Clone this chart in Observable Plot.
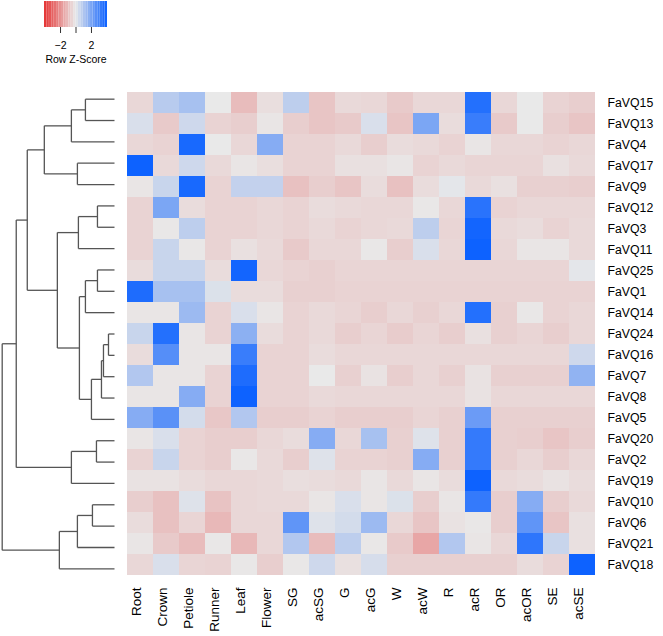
<!DOCTYPE html>
<html><head><meta charset="utf-8">
<script src="https://cdn.jsdelivr.net/npm/d3@7"></script>
<script src="https://cdn.jsdelivr.net/npm/@observablehq/plot@0.6"></script>
<style>
body{margin:0;background:#fff;font-family:"Liberation Sans",Arial,sans-serif;}
#wrap{position:relative;width:663px;height:636px;overflow:hidden;background:#fff}
#wrap svg{position:absolute;left:0;top:0;background:transparent}
</style></head><body><div id="wrap"></div>
<script>
// ---- data ----
const tissues = ["Root","Crown","Petiole","Runner","Leaf","Flower","SG","acSG","G","acG","W","acW","R","acR","OR","acOR","SE","acSE"];
const genes = ["FaVQ15","FaVQ13","FaVQ4","FaVQ17","FaVQ9","FaVQ12","FaVQ3","FaVQ11","FaVQ25","FaVQ1","FaVQ14","FaVQ24","FaVQ16","FaVQ7","FaVQ8","FaVQ5","FaVQ20","FaVQ2","FaVQ19","FaVQ10","FaVQ6","FaVQ21","FaVQ18"];

const zFaVQ15 = [-0.4, 0.9, 1.2, 0, -1.0, -0.25, 0.8, -0.8, -0.35, -0.4, -0.7, -0.4, -0.4, 3.6, -0.4, 0, -0.5, -0.6];
const zFaVQ13 = [0.3, -0.7, 0.5, -0.5, -0.6, -0.1, -0.6, -0.8, -0.7, 0.3, -0.8, 2.0, -0.3, 3.2, -0.7, 0, -0.6, -0.8];
const zFaVQ4  = [-0.4, -0.5, 3.8, 0, -0.4, 1.8, -0.5, -0.5, -0.35, -0.6, -0.3, -0.35, -0.5, -0.1, -0.4, -0.4, -0.5, -0.4];
const zFaVQ17 = [4.0, -0.35, 0.5, -0.35, -0.1, -0.25, -0.5, -0.5, -0.2, -0.2, -0.1, -0.5, -0.35, -0.45, -0.45, -0.45, -0.2, -0.35];
const zFaVQ9  = [-0.1, 0.6, 3.8, -0.5, 0.7, 0.7, -0.9, -0.6, -0.8, -0.3, -0.9, -0.3, 0.1, -0.35, -0.2, -0.55, -0.55, -0.6];
const zFaVQ12 = [-0.5, 2.0, -0.3, -0.5, -0.5, -0.4, -0.5, -0.3, -0.35, -0.4, -0.4, -0.05, -0.4, 3.5, -0.5, -0.4, -0.4, -0.4];
const zFaVQ3  = [-0.5, -0.05, 0.8, -0.5, -0.5, -0.4, -0.5, -0.35, -0.5, -0.4, -0.35, 0.8, -0.45, 3.9, -0.35, -0.3, -0.5, -0.35];
const zFaVQ11 = [-0.5, 0.6, -0.05, -0.5, -0.2, -0.35, -0.7, -0.4, -0.4, -0.05, -0.6, 0.3, -0.4, 4.0, -0.4, -0.1, -0.1, -0.35];
const zFaVQ25 = [-0.3, 0.6, 0.6, -0.3, 3.9, -0.4, -0.5, -0.55, -0.45, -0.45, -0.45, -0.45, -0.45, -0.45, -0.45, -0.45, -0.45, 0.1];
const zFaVQ1  = [3.7, 1.2, 1.2, 0.25, -0.3, -0.3, -0.55, -0.55, -0.5, -0.5, -0.5, -0.5, -0.5, -0.5, -0.5, -0.5, -0.5, -0.5];
const zFaVQ14 = [-0.1, -0.1, 1.4, -0.5, 0.3, -0.1, -0.5, -0.35, -0.45, -0.6, -0.4, -0.55, -0.4, 3.6, -0.55, -0.05, -0.5, -0.4];
const zFaVQ24 = [0.6, 3.6, -0.1, -0.5, 1.7, -0.3, -0.5, -0.35, -0.6, -0.45, -0.65, -0.45, -0.6, -0.2, -0.55, -0.45, -0.6, -0.4];
const zFaVQ16 = [-0.3, 2.7, -0.1, -0.1, 3.2, -0.5, -0.5, -0.3, -0.4, -0.4, -0.4, -0.4, -0.4, -0.4, -0.4, -0.4, -0.4, 0.5];
const zFaVQ7  = [1.0, -0.1, -0.1, -0.5, 3.7, -0.5, -0.5, 0, -0.55, -0.15, -0.6, -0.4, -0.55, -0.15, -0.55, -0.55, -0.55, 1.6];
const zFaVQ8  = [-0.1, -0.1, 1.8, -0.5, 4.0, -0.5, -0.5, -0.35, -0.4, -0.4, -0.4, -0.4, -0.4, -0.15, -0.4, -0.4, -0.4, -0.4];
const zFaVQ5  = [1.8, 2.6, 0.4, -0.75, 1.0, -0.6, -0.6, -0.5, -0.6, -0.6, -0.6, -0.45, -0.55, 2.3, -0.55, -0.55, -0.55, -0.55];
const zFaVQ20 = [-0.1, 0.3, -0.5, -0.6, -0.6, -0.4, -0.3, 1.8, -0.4, 1.2, -0.55, 0.2, -0.55, 3.3, -0.55, -0.6, -0.8, -0.6];
const zFaVQ2  = [-0.5, 0.6, -0.5, -0.6, -0.05, -0.35, -0.6, 0.2, -0.5, -0.5, -0.55, 1.8, -0.55, 3.3, -0.55, -0.4, -0.6, -0.4];
const zFaVQ19 = [-0.15, -0.15, -0.3, -0.4, -0.4, -0.35, -0.25, -0.3, -0.35, -0.1, -0.35, -0.1, -0.3, 4.1, -0.35, -0.3, -0.15, -0.3];
const zFaVQ10 = [-0.6, -0.9, 0.2, -0.85, -0.4, -0.35, -0.35, -0.1, 0.3, -0.1, 0.25, -0.6, -0.1, 3.3, -0.6, 1.8, -0.6, -0.35];
const zFaVQ6  = [-0.3, -0.9, -0.45, -1.1, -0.4, -0.4, 2.5, 0.2, 0.4, 1.4, -0.4, -0.8, -0.15, -0.05, -0.6, 2.5, -0.8, -0.2];
const zFaVQ21 = [-0.1, -0.7, -1.0, -0.05, -1.1, -0.4, 1.0, -1.0, 0.8, -0.05, -0.7, -1.5, 1.0, -0.1, -0.4, 3.4, 0.6, -0.2];
const zFaVQ18 = [-0.4, 0.3, -0.45, -0.5, -0.05, -0.6, -0.05, 0.5, -0.2, 0.35, -0.55, -0.55, -0.55, -0.55, -0.55, -0.3, -0.5, 4.0];

const rowValues = [zFaVQ15,zFaVQ13,zFaVQ4,zFaVQ17,zFaVQ9,zFaVQ12,zFaVQ3,zFaVQ11,zFaVQ25,zFaVQ1,zFaVQ14,zFaVQ24,zFaVQ16,zFaVQ7,zFaVQ8,zFaVQ5,zFaVQ20,zFaVQ2,zFaVQ19,zFaVQ10,zFaVQ6,zFaVQ21,zFaVQ18];

// dendrogram merges (hclust style: negative = leaf in display order, positive = earlier merge)
const mergeA = [-1, 1, -4, 2, -6, 5, -9, 7, -12, 9, 10, 11, 8, 6, 4, -17, 16, 15, -20, 19, 20, 18];
const mergeB = [-2, -3, -5, 3, -7, -8, -10, -11, -13, -14, -15, -16, 12, 13, 14, -18, -19, 17, -21, -22, -23, 21];
const mergeHeight = [29, 43, 37, 70, 17, 36, 17, 29, 6, 11, 13, 23, 35, 57, 87, 18, 43, 98, 22, 37, 55, 112];

const keyTicks = [-2, 0, 2];

// ---- build ----
const cells = [];
genes.forEach((g, i) => tissues.forEach((t, j) => cells.push({gene: g, tissue: t, z: rowValues[i][j]})));

const colorOpts = {type: "linear", domain: [-4, 0, 4], range: ["#e53535", "#e9e9e9", "#0d62ff"], interpolate: "rgb", clamp: true};
const font = '"Liberation Sans", Arial, sans-serif';
const wrap = document.getElementById("wrap");

const heat = Plot.plot({
  width: 663, height: 636,
  marginLeft: 119, marginRight: 60, marginTop: 88, marginBottom: 57,
  style: {fontFamily: font, background: "transparent", color: "#000"},
  x: {domain: tissues, padding: 0, label: null},
  y: {domain: genes, padding: 0, label: null},
  color: colorOpts,
  marks: [
    Plot.cell(cells, {x: "tissue", y: "gene", fill: "z"}),
    Plot.axisX({anchor: "bottom", tickRotate: -90, tickSize: 0, tickPadding: 8, fontSize: 13.5, label: null, dx: -4}),
    Plot.axisY({anchor: "right", tickSize: 0, tickPadding: 4, fontSize: 12.3, label: null})
  ]
});
wrap.appendChild(heat);

// dendrogram
const nodeY = [], nodeH = [];
const ref = r => r < 0 ? {y: -r - 1, h: 0} : {y: nodeY[r - 1], h: nodeH[r - 1]};
const segs = [];
mergeA.forEach((a, k) => {
  const pa = ref(a), pb = ref(mergeB[k]), h = mergeHeight[k];
  nodeY[k] = (pa.y + pb.y) / 2; nodeH[k] = h;
  segs.push({x1: h, y1: pa.y, x2: h, y2: pb.y});
  segs.push({x1: pa.h, y1: pa.y, x2: h, y2: pa.y});
  segs.push({x1: pb.h, y1: pb.y, x2: h, y2: pb.y});
});
const dendro = Plot.plot({
  width: 119, height: 636, margin: 0,
  style: {background: "transparent"},
  x: {domain: [0, 112], range: [114, 1.7], axis: null},
  y: {domain: [-0.5, genes.length - 0.5], range: [88, 579], axis: null},
  marks: [Plot.link(segs, {x1: "x1", y1: "y1", x2: "x2", y2: "y2", stroke: "#555", strokeWidth: 1.3})]
});
wrap.appendChild(dendro);

// colour key
const bins = d3.range(-4.07, 4.07, 8.14 / 26).map(v => ({x1: v, x2: v + 8.14 / 26}));
const key = Plot.plot({
  width: 130, height: 75, marginLeft: 44, marginRight: 23, marginTop: 1, marginBottom: 48,
  style: {fontFamily: font, background: "transparent", color: "#000"},
  x: {domain: [-4.07, 4.07], label: null},
  y: {domain: [0, 1], axis: null},
  color: colorOpts,
  marks: [
    Plot.rect(bins, {x1: "x1", x2: "x2", y1: 0, y2: 1, fill: d => (d.x1 + d.x2) / 2}),
    Plot.axisX({ticks: keyTicks, tickSize: 6, tickPadding: 8, fontSize: 10.5, stroke: "#333",
      tickFormat: d => d === 0 ? "" : (d < 0 ? "\u2212" + Math.abs(d) : String(d)), label: null}),
    Plot.text(["Row Z-Score"], {frameAnchor: "bottom", dy: 35, fontSize: 10.5})
  ]
});
wrap.appendChild(key);
</script></body></html>
